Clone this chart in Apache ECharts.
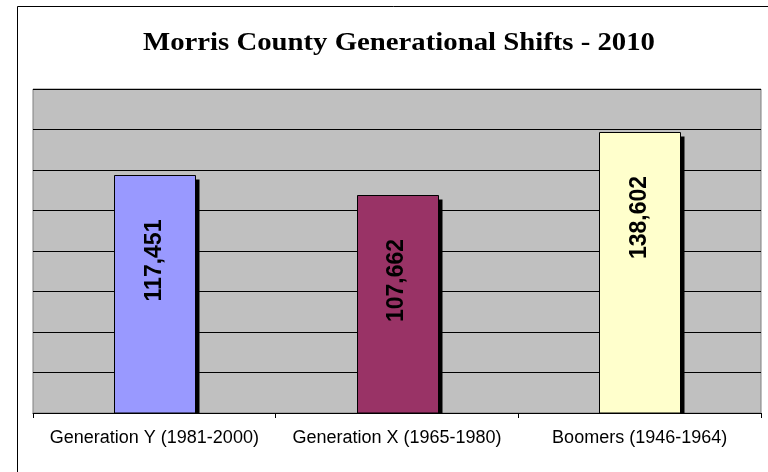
<!DOCTYPE html>
<html>
<head>
<meta charset="utf-8">
<script src="https://cdn.jsdelivr.net/npm/echarts@6/dist/echarts.min.js"></script>
<style>
html,body{margin:0;padding:0;background:#fff;}
#c{width:768px;height:472px;}
</style>
</head>
<body>
<div id="c"></div>
<script>
const categories = ['Generation Y (1981-2000)', 'Generation X (1965-1980)', 'Boomers (1946-1964)'];
const values = [117451, 107662, 138602];
const barColors = ['#9999FF', '#993366', '#FFFFCC'];
const title = 'Morris County Generational Shifts - 2010';

const chart = echarts.init(document.getElementById('c'), null, {renderer: 'canvas'});

const fmt = v => v.toLocaleString('en-US');

// stretch title horizontally to match reference's wide rendering
const titleFont = 'bold 26px "Liberation Serif"';
const mc = document.createElement('canvas').getContext('2d');
mc.font = titleFont;
const titleScaleX = 512 / mc.measureText(title).width;

chart.setOption({
  backgroundColor: '#ffffff',
  animation: false,
  graphic: [
    {type: 'line', z: 100, silent: true, shape: {x1: 17.5, y1: 6.5, x2: 17.5, y2: 480}, style: {stroke: '#000', lineWidth: 1}},
    {type: 'line', z: 100, silent: true, shape: {x1: 17.5, y1: 6.5, x2: 780, y2: 6.5}, style: {stroke: '#000', lineWidth: 1}},
    {type: 'text', z: 100, silent: true, x: 399, y: 43, scaleX: titleScaleX,
     style: {text: title, font: titleFont, fill: '#000', align: 'center', verticalAlign: 'middle'}}
  ],
  grid: {
    left: 33, right: 7, top: 89, bottom: 59,
    show: true, backgroundColor: '#C0C0C0', borderColor: '#808080', borderWidth: 1
  },
  xAxis: {
    type: 'category', data: categories,
    axisLine: {lineStyle: {color: '#000', width: 1}},
    axisTick: {show: true, length: 5, lineStyle: {color: '#000'}},
    axisLabel: {interval: 0, fontFamily: 'Liberation Sans', fontSize: 18, color: '#000', margin: 16},
    splitLine: {show: false}
  },
  yAxis: {
    type: 'value', min: 0, max: 160000, interval: 20000,
    axisLabel: {show: false}, axisLine: {show: false}, axisTick: {show: false},
    splitLine: {show: true, lineStyle: {color: '#000', width: 1}}
  },
  series: [{
    type: 'custom',
    data: values.map((v, i) => [i, v]),
    encode: {x: 0, y: 1},
    renderItem: function (params, api) {
      const i = api.value(0), v = api.value(1);
      const top = api.coord([i, v]);
      const base = api.coord([i, 0]);
      const bw = Math.round(api.size([1, 0])[0] * 0.334);
      const left = Math.round(top[0] - bw / 2) + 0.5;
      const y0 = Math.round(top[1]) + 0.5;
      const y1 = base[1];
      return {
        type: 'group',
        children: [
          {type: 'rect', shape: {x: left + 4, y: y0 + 4, width: bw, height: y1 - y0 - 4}, style: {fill: '#000'}},
          {type: 'rect', shape: {x: left, y: y0, width: bw, height: y1 - y0}, style: {fill: barColors[params.dataIndex], stroke: '#000', lineWidth: 1}},
          {type: 'text', x: top[0], y: y0 + 85, rotation: Math.PI / 2,
           style: {text: fmt(v), fontFamily: 'Liberation Sans', fontWeight: 'bold', fontSize: 23, fill: '#000', align: 'center', verticalAlign: 'middle'}}
        ]
      };
    }
  }]
});
</script>
</body>
</html>
